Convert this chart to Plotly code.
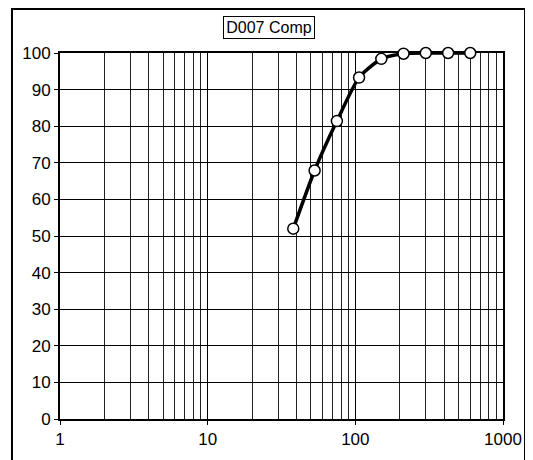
import plotly.graph_objects as go

# sieve sizes (microns) and cumulative percent passing
size_um = [38, 53, 75, 106, 150, 212, 300, 425, 600]
pct_passing = [52.0, 67.9, 81.4, 93.3, 98.4, 99.8, 100, 100, 100]

x_ticks = [1, 10, 100, 1000]
y_ticks = list(range(0, 101, 10))
minor_grid = [d * m for d in [1, 10, 100] for m in range(2, 10)]

font = "Arial, Liberation Sans, sans-serif"

fig = go.Figure()
fig.add_trace(go.Scatter(
    x=size_um, y=pct_passing,
    mode="lines+markers",
    line=dict(color="black", width=3.5, shape="spline", smoothing=0.6),
    marker=dict(symbol="circle", size=11, color="white",
                line=dict(color="black", width=1.5)),
    cliponaxis=False,
    showlegend=False,
))

# page body has an 8px margin, so the figure is laid out 8px in from the window edge
fig.update_layout(
    width=525, height=452,
    margin=dict(l=52, r=30, t=45, b=41),
    paper_bgcolor="white", plot_bgcolor="white",
    font=dict(family=font, size=17, color="black"),
    xaxis=dict(
        type="log", range=[0, 3],
        tickvals=x_ticks, ticktext=[str(v) for v in x_ticks],
        ticks="outside", ticklen=4, tickcolor="black",
        showline=True, linecolor="black", linewidth=2, mirror=True,
        showgrid=True, gridcolor="black", gridwidth=1,
        minor=dict(tickvals=minor_grid, showgrid=True, gridcolor="#222222",
                   gridwidth=1, ticks=""),
        zeroline=False, layer="below traces",
    ),
    yaxis=dict(
        range=[0, 100], tickvals=y_ticks,
        ticks="outside", ticklen=4, tickcolor="black",
        showline=True, linecolor="black", linewidth=2, mirror=True,
        showgrid=True, gridcolor="black", gridwidth=1,
        zeroline=False, layer="below traces",
    ),
    shapes=[dict(
        type="rect", xref="paper", yref="paper",
        x0=-0.1084, x1=1.0497, y0=-0.134, y1=1.1202,
        line=dict(color="black", width=2), fillcolor="rgba(0,0,0,0)",
        layer="above",
    )],
    annotations=[dict(
        text="D007 Comp", xref="paper", yref="paper",
        x=0.4718, y=1.071, xanchor="center", yanchor="middle",
        showarrow=False, font=dict(family=font, size=16, color="black"),
        bordercolor="black", borderwidth=1, borderpad=2,
        bgcolor="white", width=86,
    )],
)

fig.write_html("out.html")
